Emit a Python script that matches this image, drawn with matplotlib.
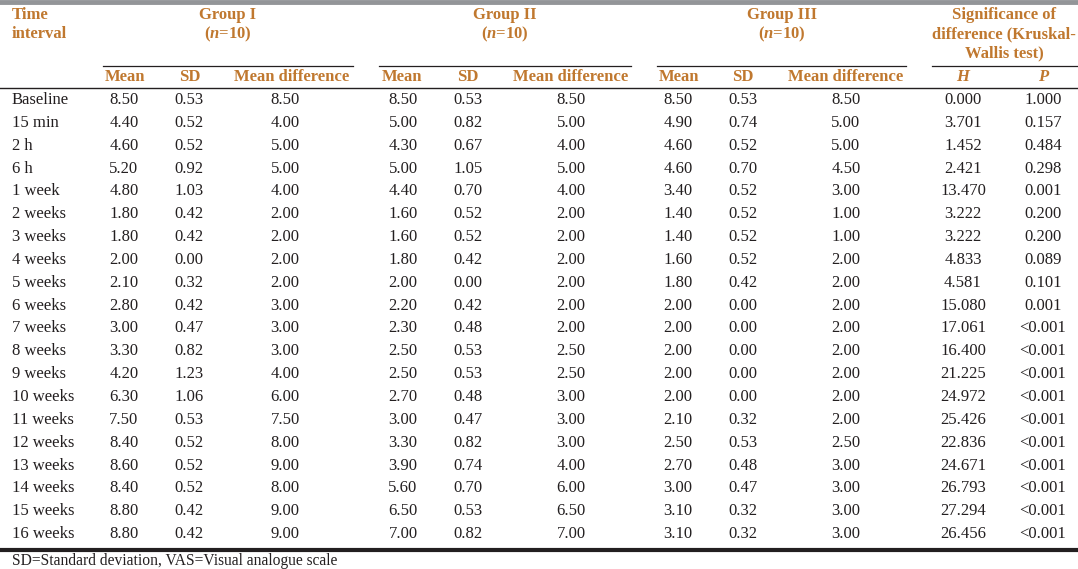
import matplotlib.pyplot as plt
from matplotlib.lines import Line2D

time_labels = ["Baseline", "15 min", "2 h", "6 h", "1 week", "2 weeks", "3 weeks",
               "4 weeks", "5 weeks", "6 weeks", "7 weeks", "8 weeks", "9 weeks",
               "10 weeks", "11 weeks", "12 weeks", "13 weeks", "14 weeks",
               "15 weeks", "16 weeks"]

g1_mean = ["8.50", "4.40", "4.60", "5.20", "4.80", "1.80", "1.80", "2.00", "2.10", "2.80",
           "3.00", "3.30", "4.20", "6.30", "7.50", "8.40", "8.60", "8.40", "8.80", "8.80"]
g1_sd = ["0.53", "0.52", "0.52", "0.92", "1.03", "0.42", "0.42", "0.00", "0.32", "0.42",
         "0.47", "0.82", "1.23", "1.06", "0.53", "0.52", "0.52", "0.52", "0.42", "0.42"]
g1_diff = ["8.50", "4.00", "5.00", "5.00", "4.00", "2.00", "2.00", "2.00", "2.00", "3.00",
           "3.00", "3.00", "4.00", "6.00", "7.50", "8.00", "9.00", "8.00", "9.00", "9.00"]

g2_mean = ["8.50", "5.00", "4.30", "5.00", "4.40", "1.60", "1.60", "1.80", "2.00", "2.20",
           "2.30", "2.50", "2.50", "2.70", "3.00", "3.30", "3.90", "5.60", "6.50", "7.00"]
g2_sd = ["0.53", "0.82", "0.67", "1.05", "0.70", "0.52", "0.52", "0.42", "0.00", "0.42",
         "0.48", "0.53", "0.53", "0.48", "0.47", "0.82", "0.74", "0.70", "0.53", "0.82"]
g2_diff = ["8.50", "5.00", "4.00", "5.00", "4.00", "2.00", "2.00", "2.00", "2.00", "2.00",
           "2.00", "2.50", "2.50", "3.00", "3.00", "3.00", "4.00", "6.00", "6.50", "7.00"]

g3_mean = ["8.50", "4.90", "4.60", "4.60", "3.40", "1.40", "1.40", "1.60", "1.80", "2.00",
           "2.00", "2.00", "2.00", "2.00", "2.10", "2.50", "2.70", "3.00", "3.10", "3.10"]
g3_sd = ["0.53", "0.74", "0.52", "0.70", "0.52", "0.52", "0.52", "0.52", "0.42", "0.00",
         "0.00", "0.00", "0.00", "0.00", "0.32", "0.53", "0.48", "0.47", "0.32", "0.32"]
g3_diff = ["8.50", "5.00", "5.00", "4.50", "3.00", "1.00", "1.00", "2.00", "2.00", "2.00",
           "2.00", "2.00", "2.00", "2.00", "2.00", "2.50", "3.00", "3.00", "3.00", "3.00"]

h_values = ["0.000", "3.701", "1.452", "2.421", "13.470", "3.222", "3.222", "4.833", "4.581",
            "15.080", "17.061", "16.400", "21.225", "24.972", "25.426", "22.836", "24.671",
            "26.793", "27.294", "26.456"]
p_values = ["1.000", "0.157", "0.484", "0.298", "0.001", "0.200", "0.200", "0.089", "0.101",
            "0.001", "<0.001", "<0.001", "<0.001", "<0.001", "<0.001", "<0.001", "<0.001",
            "<0.001", "<0.001", "<0.001"]

W, H = 1078, 569
plt.rcParams['font.family'] = ['Liberation Serif', 'DejaVu Serif']
plt.rcParams['mathtext.fontset'] = 'custom'
plt.rcParams['mathtext.it'] = 'Liberation Serif:italic:bold'
plt.rcParams['mathtext.rm'] = 'Liberation Serif:bold'
fig = plt.figure(figsize=(W / 100, H / 100), dpi=100)

head_col = '#c0782f'
txt_col = '#231f20'
fs = 12


def tx(x, y, s, ha='center', **kw):
    fig.text(x / W, 1 - y / H, s, ha=ha, va='center', **kw)


def hline(x0, x1, y, lw=1.0, color='#231f20'):
    fig.add_artist(Line2D([x0 / W, x1 / W], [1 - y / H, 1 - y / H], lw=lw, color=color))


hd = dict(color=head_col, fontweight='bold', fontsize=fs)

# top grey band
hline(0, W, 2, lw=3.5, color='#939598')

# header
tx(12, 15, "Time", ha='left', **hd)
tx(12, 34, "interval", ha='left', **hd)
for cx, name in [(228, "Group I"), (505, "Group II"), (782, "Group III")]:
    tx(cx, 15, name, **hd)
    tx(cx, 34, "($\\mathit{n}$=10)", **hd)
tx(1004, 15, "Significance of", **hd)
tx(1004, 34, "difference (Kruskal-", **hd)
tx(1004, 53, "Wallis test)", **hd)

for x0, x1 in [(103, 353), (379, 631), (657, 906), (932, 1078)]:
    hline(x0, x1, 66, lw=0.9)

sub = [(125, "Mean"), (190, "SD"), (292, "Mean difference"),
       (402, "Mean"), (468, "SD"), (571, "Mean difference"),
       (679, "Mean"), (743, "SD"), (846, "Mean difference")]
for cx, s in sub:
    tx(cx, 77, s, **hd)
tx(963, 77, "H", color=head_col, fontweight='bold', fontstyle='italic', fontsize=fs)
tx(1043, 77, "P", color=head_col, fontweight='bold', fontstyle='italic', fontsize=fs)
hline(0, W, 88, lw=1.0)

# body
cols = [(124, g1_mean), (189, g1_sd), (285, g1_diff),
        (403, g2_mean), (468, g2_sd), (571, g2_diff),
        (678, g3_mean), (743, g3_sd), (846, g3_diff),
        (963, h_values), (1043, p_values)]
y0, dy = 100, 22.85
for i, lab in enumerate(time_labels):
    y = y0 + i * dy
    tx(12, y, lab, ha='left', color=txt_col, fontsize=fs)
    for cx, vals in cols:
        tx(cx, y, vals[i], color=txt_col, fontsize=fs)

hline(0, W, 550, lw=3.0)
tx(12, 561, "SD=Standard deviation, VAS=Visual analogue scale", ha='left',
   color=txt_col, fontsize=11.2)

fig.savefig("out.png", dpi=100)
